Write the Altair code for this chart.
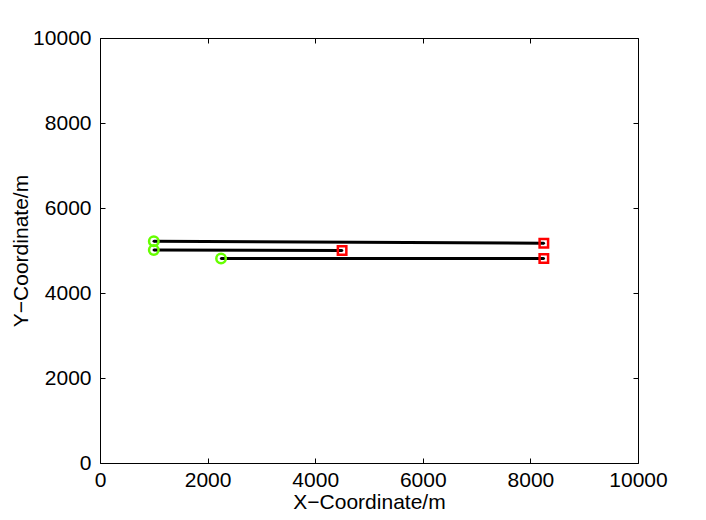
import altair as alt
import pandas as pd

track = ["T1", "T2", "T3"]
start_x = [1000, 1000, 2250]
start_y = [5220, 5010, 4810]
end_x = [8250, 4500, 8250]
end_y = [5170, 5000, 4810]
tick_values = [0, 2000, 4000, 6000, 8000, 10000]

rows = []
for t, sx, sy, ex, ey in zip(track, start_x, start_y, end_x, end_y):
    rows.append({"track": t, "x": sx, "y": sy, "order": 0})
    rows.append({"track": t, "x": ex, "y": ey, "order": 1})
path = pd.DataFrame(rows)
starts = pd.DataFrame({"track": track, "x": start_x, "y": start_y})
ends = pd.DataFrame({"track": track, "x": end_x, "y": end_y})

FONT = "Liberation Sans"
FS = 21
xs = alt.Scale(domain=[0, 10000], nice=False, zero=False)
ys = alt.Scale(domain=[0, 10000], nice=False, zero=False)


def label_axis(orient, title, **kw):
    return alt.Axis(orient=orient, values=tick_values, format="d", ticks=False, tickSize=0,
                    domain=False, grid=False, labelFontSize=FS, labelFont=FONT,
                    labelColor="black", labelFlush=False, labelOverlap=False,
                    title=title, titleFontSize=FS, titleFont=FONT,
                    titleColor="black", titleFontWeight="normal", **kw)


def tick_axis(orient):
    return alt.Axis(orient=orient, values=tick_values, ticks=True, tickSize=5,
                    tickColor="black", tickWidth=1, offset=-5, labels=False,
                    domain=False, grid=False, title=None)


lines = alt.Chart(path).mark_line(color="black", strokeWidth=3).encode(
    x=alt.X("x:Q", scale=xs, axis=label_axis("bottom", "X−Coordinate/m",
                                               labelPadding=6, titlePadding=1)),
    y=alt.Y("y:Q", scale=ys, axis=label_axis("left", "Y−Coordinate/m",
                                               labelPadding=9, titlePadding=1)),
    detail="track:N",
    order="order:O",
)

circles = alt.Chart(starts).mark_point(
    shape="circle", filled=False, color="#66ff00", strokeWidth=2.5, size=90, opacity=1
).encode(
    x=alt.X("x:Q", scale=xs, axis=tick_axis("bottom")),
    y=alt.Y("y:Q", scale=ys, axis=tick_axis("left")),
)

squares = alt.Chart(ends).mark_point(
    shape="square", filled=False, color="#ff0000", strokeWidth=2.5, size=72, opacity=1
).encode(
    x=alt.X("x:Q", scale=xs, axis=tick_axis("top")),
    y=alt.Y("y:Q", scale=ys, axis=tick_axis("right")),
)

dots = alt.Chart(path).mark_point(
    shape="circle", filled=True, color="black", size=6, opacity=1
).encode(
    x=alt.X("x:Q", scale=xs, axis=None),
    y=alt.Y("y:Q", scale=ys, axis=None),
)

chart = alt.layer(lines, circles, squares, dots).resolve_axis(
    x="independent", y="independent"
).properties(
    width=538, height=425,
    autosize=alt.AutoSizeParams(type="none"),
    padding={"left": 92, "top": 30, "right": 60, "bottom": 49},
    background="white",
).configure_view(stroke="black", strokeWidth=1)

chart.save("out.html", embed_options={"renderer": "svg", "actions": False})
